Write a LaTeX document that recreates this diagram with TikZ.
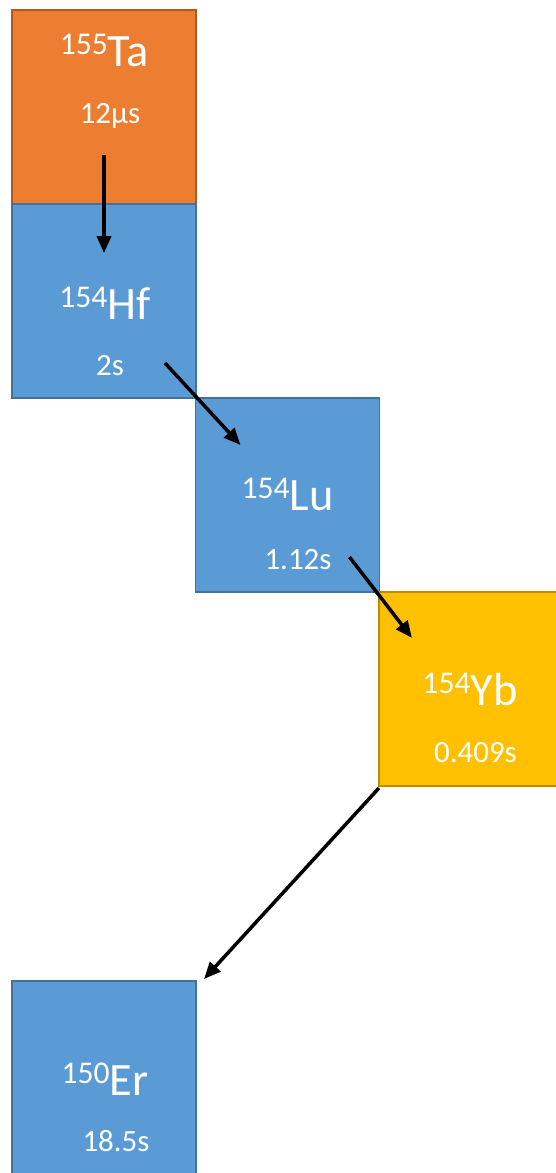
\documentclass[tikz,border=0pt]{standalone}
\usepackage{fontspec}
\setmainfont{Carlito}
\usetikzlibrary{arrows.meta}
\definecolor{taorange}{HTML}{ED7D31}
\definecolor{taedge}{HTML}{AE5A21}
\definecolor{nucblue}{HTML}{5B9BD5}
\definecolor{nucedge}{HTML}{41719C}
\definecolor{ybgold}{HTML}{FFC000}
\definecolor{ybedge}{HTML}{BC8C00}
\newcommand{\nuc}[2]{\raisebox{17pt}{\fontsize{45}{45}\selectfont #1}{\fontsize{66}{66}\selectfont #2}}
\newcommand{\hl}[1]{{\fontsize{44}{44}\selectfont #1}}

\begin{document}
\begin{tikzpicture}[x=0.05cm, y=0.05cm]
\tikzstyle{box}=[rectangle, inner sep=0pt, outer sep=0pt, line width=2.8pt, minimum width=9.2cm, minimum height=9.7cm]
\tikzstyle{lbl}=[anchor=base, inner sep=0pt, text=white]
\tikzstyle{decay}=[line width=5pt, -{Triangle[length=24pt,width=20pt]}]
\useasboundingbox (0,0) rectangle (556,-1173);
\node [box, fill=taorange, draw=taedge] (ta) at (104,-107) {};
\node [box, fill=nucblue, draw=nucedge] (hf) at (104,-301) {};
\node [box, fill=nucblue, draw=nucedge] (lu) at (287.5,-495) {};
\node [box, fill=ybgold, draw=ybedge] (yb) at (471,-689) {};
\node [box, fill=nucblue, draw=nucedge] (er) at (104,-1078) {};
\node [lbl] (ta-name) at (104.5,-66) {\nuc{155}{Ta}};
\node [lbl] (ta-time) at (110,-123) {\hl{12µs}};
\node [lbl] (hf-name) at (105,-319) {\nuc{154}{Hf}};
\node [lbl] (hf-time) at (110,-375) {\hl{2s}};
\node [lbl] (lu-name) at (287.5,-510) {\nuc{154}{Lu}};
\node [lbl] (lu-time) at (298,-569) {\hl{1.12s}};
\node [lbl] (yb-name) at (470,-705) {\nuc{154}{Yb}};
\node [lbl] (yb-time) at (475.5,-762) {\hl{0.409s}};
\node [lbl] (er-name) at (105,-1095) {\nuc{150}{Er}};
\node [lbl] (er-time) at (116,-1151) {\hl{18.5s}};
\draw [decay] ([shift={(0,49)}]ta.south) -- ([shift={(0,-49)}]hf.north);
\draw [decay] ([shift={(-31,35)}]hf.south east) -- ([shift={(45,-47)}]lu.north west);
\draw [decay] ([shift={(-30,35)}]lu.south east) -- ([shift={(33,-46)}]yb.north west);
\draw [decay] ([shift={(0,-2)}]yb.south west) -- ([shift={(8,2)}]er.north east);
\end{tikzpicture}
\end{document}
